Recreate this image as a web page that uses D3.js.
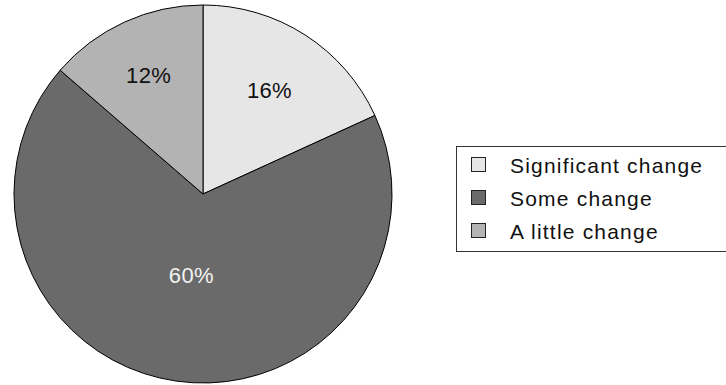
<!DOCTYPE html>
<html>
<head>
<meta charset="utf-8">
<script src="https://cdn.jsdelivr.net/npm/d3@7"></script>
<style>
  html, body { margin: 0; padding: 0; background: #fff; }
  svg { display: block; }
  text { font-family: "Liberation Sans", Arial, Helvetica, sans-serif; }
</style>
</head>
<body>
<svg id="chart" width="726" height="385"></svg>
<script>
// Data
const categories = ["Significant change", "Some change", "A little change"];
const values = [16, 60, 12];
const labels = ["16%", "60%", "12%"];
const colors = ["#e6e6e6", "#6a6a6a", "#b3b3b3"];
const labelColors = ["#111111", "#f2f2f2", "#111111"];

// Layout
const W = 726, H = 385;
const cx = 203, cy = 194, R = 189;
const labelRadius = [123, 82, 131];

const svg = d3.select("#chart");
const g = svg.append("g").attr("transform", `translate(${cx},${cy})`);

const pie = d3.pie().sort(null).value(d => d)(values);
const arc = d3.arc().innerRadius(0).outerRadius(R);

g.selectAll("path.slice")
  .data(pie)
  .join("path")
  .attr("class", "slice")
  .attr("d", arc)
  .attr("fill", (d, i) => colors[i])
  .attr("stroke", "#000")
  .attr("stroke-width", 1)
  .attr("stroke-linejoin", "round");

g.selectAll("text.lbl")
  .data(pie)
  .join("text")
  .attr("class", "lbl")
  .attr("transform", (d, i) => {
    const a = d3.arc().innerRadius(labelRadius[i]).outerRadius(labelRadius[i]);
    const [x, y] = a.centroid(d);
    return `translate(${x},${y})`;
  })
  .attr("text-anchor", "middle")
  .attr("dy", "0.36em")
  .attr("font-size", 22)
  .attr("letter-spacing", 0.3)
  .attr("fill", (d, i) => labelColors[i])
  .text((d, i) => labels[i]);

// Legend
const lg = svg.append("g").attr("transform", "translate(456,146)");
lg.append("rect")
  .attr("x", 0.5).attr("y", 0.5)
  .attr("width", 300).attr("height", 105)
  .attr("fill", "#fff")
  .attr("stroke", "#333")
  .attr("stroke-width", 1);

const rowY = d3.scalePoint().domain(categories).range([19, 85]);

const rows = lg.selectAll("g.row")
  .data(categories)
  .join("g")
  .attr("class", "row")
  .attr("transform", d => `translate(0,${rowY(d)})`);

rows.append("rect")
  .attr("x", 15.5).attr("y", -7.5)
  .attr("width", 14).attr("height", 14)
  .attr("fill", (d, i) => colors[i])
  .attr("stroke", "#222")
  .attr("stroke-width", 1);

rows.append("text")
  .attr("x", 54)
  .attr("dy", "0.36em")
  .attr("font-size", 21)
  .attr("letter-spacing", 1.2)
  .attr("fill", "#111")
  .text(d => d);
</script>
</body>
</html>
